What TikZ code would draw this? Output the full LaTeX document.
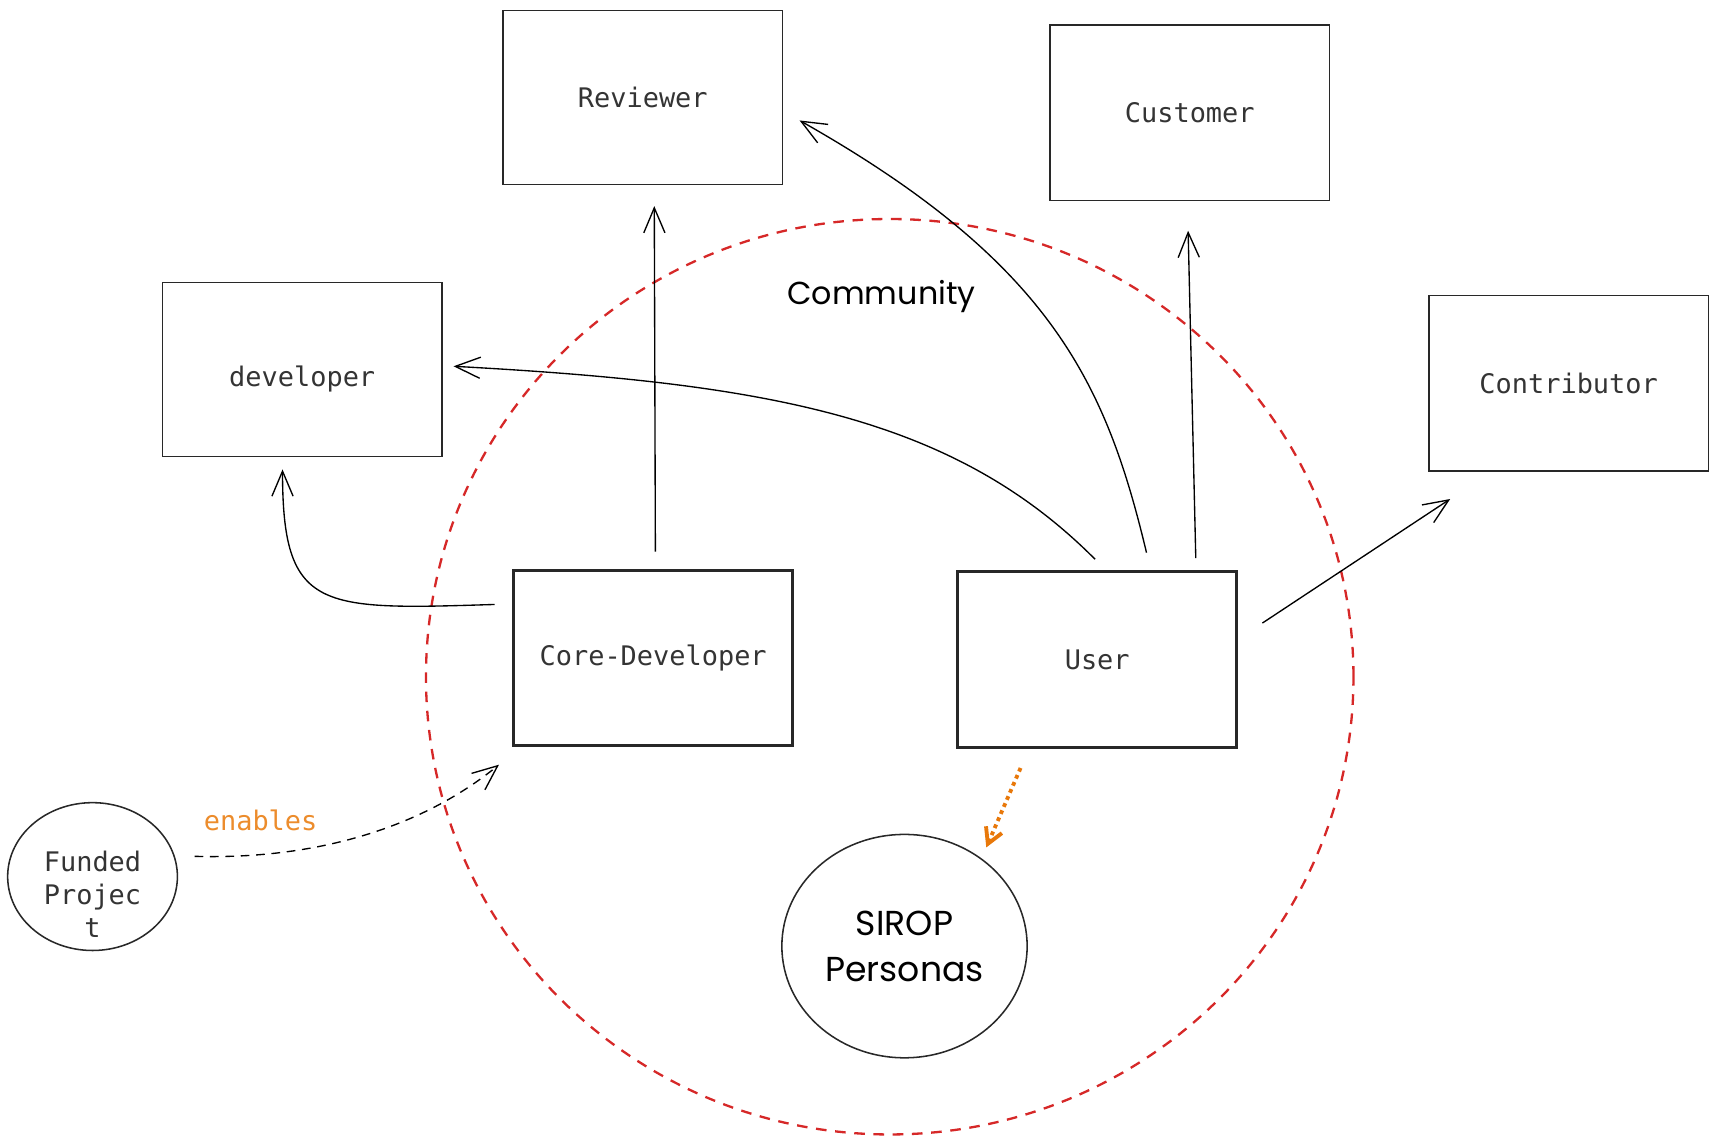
\documentclass[tikz,border=0pt]{standalone}
\usepackage{tikz}
\usepackage{xcolor}
\usepackage{fontspec}
\usetikzlibrary{shapes,arrows,arrows.meta,positioning,calc}

\newfontfamily\monofont{DejaVu Sans Mono}
\newfontfamily\handfont{Poppins}

\definecolor{inkgray}{RGB}{40,40,40}
\definecolor{labelgray}{RGB}{52,52,52}
\definecolor{commred}{RGB}{214,40,40}
\definecolor{enableorange}{RGB}{236,140,44}
\definecolor{dotorange}{RGB}{232,120,10}

\tikzset{
  persona/.style={rectangle,draw=inkgray,line width=0.8pt,minimum width=5.1cm,minimum height=3.18cm,
    font=\monofont\fontsize{14}{17}\selectfont,text=labelgray},
  mainrole/.style={persona,line width=1.5pt},
  blob/.style={ellipse,draw=inkgray,line width=0.8pt,align=center},
  link/.style={->,draw=black,line width=0.7pt},
  >={Straight Barb[length=13pt,width=11pt]}
}

\begin{document}
\begin{tikzpicture}
  \useasboundingbox (0,0) rectangle (31.36,-20.894);

  % community border
  \draw[commred,line width=1.2pt,dash pattern=on 5.5pt off 4.5pt] (16.25,-12.36) ellipse (8.47 and 8.36);
  \node[font=\handfont\fontsize{16.5}{20}\selectfont] (community) at (16.1,-5.42) {Community};

  \node[persona] (reviewer) at (11.74,-1.78) {Reviewer};
  \node[persona,minimum height=3.2cm] (customer) at (21.73,-2.06) {Customer};
  \node[persona,text height=21pt,text depth=3pt] (dev) at (5.52,-6.75) {developer};
  \node[persona,minimum height=3.2cm] (contrib) at (28.65,-7.00) {Contributor};

  \node[mainrole,minimum height=3.2cm] (coredev) at (11.93,-12.02) {Core-Developer};
  \node[mainrole,minimum height=3.22cm] (user) at (20.04,-12.05) {User};

  \node[blob,minimum width=3.1cm,minimum height=2.7cm,
    label={[font=\monofont\fontsize{14}{17}\selectfont,text=labelgray,align=center,yshift=-0.32cm]center:Funded\\Projec\\t}]
    (funded) at (1.69,-16.01) {};
  \node[blob,minimum width=4.48cm,minimum height=4.08cm,font=\handfont\fontsize{18}{24}\selectfont]
    (sirop) at (16.52,-17.28) {SIROP\\Personas};

  \node[font=\monofont\fontsize{14}{17}\selectfont,text=enableorange] (enables) at (4.76,-14.98) {enables};

  % links
  \draw[link] ($(coredev.north)+(0.04,0.32)$) -- ($(coredev.north |- reviewer.south)+(0.02,-0.38)$);
  \draw[link] ($(coredev.west)+(-0.32,0.98)$) .. controls +(-3.2,-0.1) and +(0,-2.6) .. ($(dev.south)+(-0.36,-0.22)$);
  \draw[link] ($(user.north)+(-0.04,0.2)$) .. controls (17.4,-7.6) and (14.0,-7.0) .. ($(dev.east)+(0.2,0.06)$);
  \draw[link] ($(user.north)+(0.9,0.32)$) .. controls (20.2,-7.0) and (19.2,-4.8) .. ($(reviewer.east)+(0.3,-0.42)$);
  \draw[link] ($(user.north)+(1.8,0.22)$) -- ($(customer.south)+(-0.03,-0.54)$);
  \draw[link] ($(user.east)+(0.44,0.67)$) -- ($(contrib.south west)+(0.4,-0.5)$);

  \draw[link,dash pattern=on 4.5pt off 3.5pt] ($(funded.east)+(0.3,0.37)$)
    .. controls (5.6,-15.7) and (7.6,-15.2) .. ($(coredev.south west)+(-0.24,-0.32)$);
  \draw[->,dotorange,line width=2pt,dotted,>={Straight Barb[length=8pt,width=9pt]}]
    ($(user.south)+(-1.4,-0.34)$) -- ($(sirop.north east)+(-0.1,0.35)$);

\end{tikzpicture}
\end{document}
